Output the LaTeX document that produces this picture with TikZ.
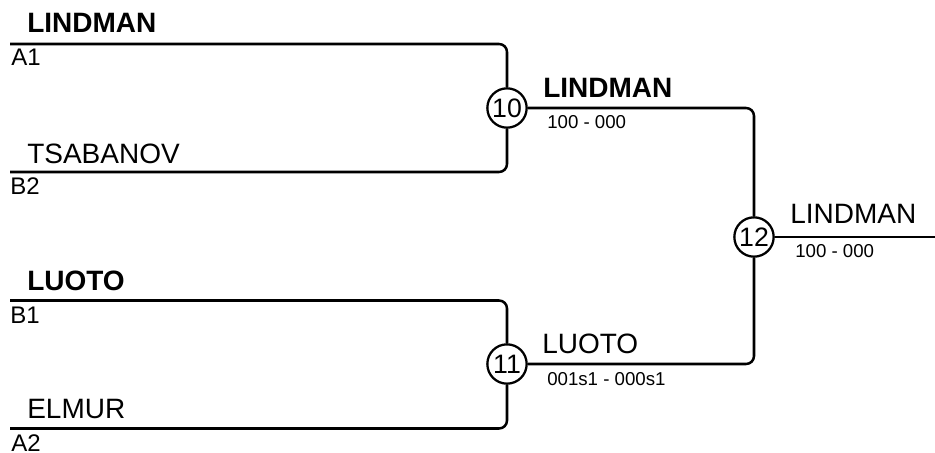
\documentclass[tikz,border=0pt]{standalone}
\usepackage{fontspec}
\setmainfont{Liberation Sans}
\begin{document}
\begin{tikzpicture}[x=0.75pt,y=-0.75pt,
  wire/.style={line width=1.9pt,rounded corners=6pt},
  ring/.style={circle,draw,line width=1.7pt,minimum size=29.5pt,inner sep=0pt,fill=white,font=\fontsize{20}{20}\selectfont},
  plname/.style={anchor=base west,inner sep=0pt,font=\fontsize{21}{24}\selectfont},
  plbname/.style={anchor=base west,inner sep=0pt,font=\fontsize{21}{24}\selectfont\bfseries},
  plseed/.style={anchor=base west,inner sep=0pt,font=\fontsize{18}{20}\selectfont},
  plscore/.style={anchor=base west,inner sep=0pt,font=\fontsize{14}{16}\selectfont}]
\useasboundingbox (0,0) rectangle (935,453);
% circles
\node[ring] (c10) at (507,108) {10};
\node[ring] (c11) at (507,364) {11};
\node[ring] (c12) at (754,237) {12};
% free ends
\coordinate (a1) at (10,44);
\coordinate (b2) at (10,172);
\coordinate (b1) at (10,300.5);
\coordinate (a2) at (10,428.5);
\coordinate (out) at (935,237);
% wires
\draw[wire] (a1) -| (c10);
\draw[wire] (b2) -| (c10);
\draw[wire] (b1) -| (c11);
\draw[wire] (a2) -| (c11);
\draw[wire] (c10) -| (c12);
\draw[wire] (c11) -| (c12);
\draw[wire] (c12) -- (out);
% labels
\node[plbname] (tA1) at (27,33) {LINDMAN};
\node[plseed] (sA1) at (11,65) {A1};
\node[plname] (tB2) at (27,163) {TSABANOV};
\node[plseed] (sB2) at (10,194) {B2};
\node[plbname] (tB1) at (27,290) {LUOTO};
\node[plseed] (sB1) at (10,323) {B1};
\node[plname] (tA2) at (27,418) {ELMUR};
\node[plseed] (sA2) at (11,451) {A2};
\node[plbname] (w10) at (543,98) {LINDMAN};
\node[plscore] (r10) at (547,128) {100 - 000};
\node[plname] (w11) at (542,353) {LUOTO};
\node[plscore] (r11) at (547,385) {001s1 - 000s1};
\node[plname] (w12) at (790,223) {LINDMAN};
\node[plscore] (r12) at (795,257) {100 - 000};
\end{tikzpicture}
\end{document}
